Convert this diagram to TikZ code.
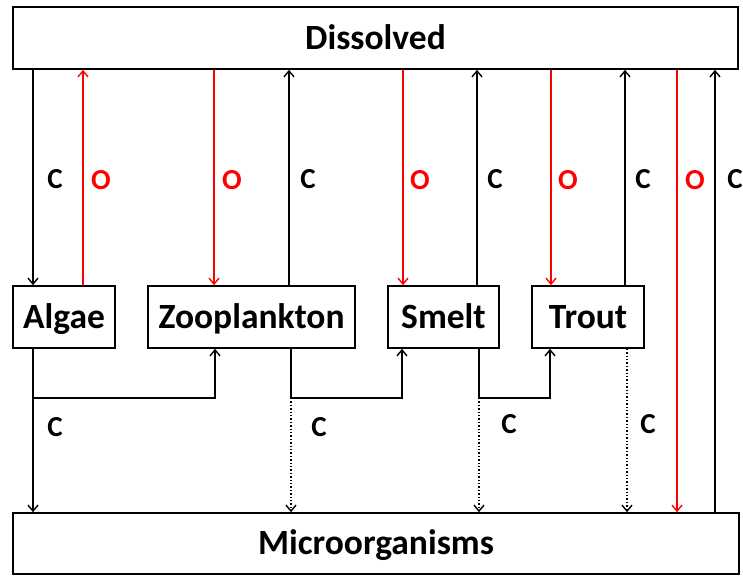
\documentclass[tikz,border=0pt]{standalone}
\usepackage{fontspec}
\setmainfont{Carlito}
\usetikzlibrary{arrows.meta}
\begin{document}
\begin{tikzpicture}[x=1pt,y=-1pt,
  box/.style={draw, line width=1.6pt, inner sep=0pt, text height=22.9pt, text depth=0pt,
    font=\fontsize{35.5}{40}\selectfont\bfseries},
  lab/.style={font=\fontsize{29}{32}\selectfont\bfseries, inner sep=0pt, text height=18.7pt, text depth=0pt},
  olab/.style={lab, text=red},
  carr/.style={line width=1.4pt, -{Straight Barb[length=6pt,width=10pt,line width=1.4pt]}},
  oarr/.style={carr, draw=red},
  darr/.style={carr, dotted, line width=1.3pt},
  cline/.style={line width=1.4pt}]
\useasboundingbox (0,0) rectangle (743,575);
% boxes
\node[box, minimum width=725pt, minimum height=62pt, text depth=-2pt] (diss) at (375.5,38) {Dissolved};
\node[box, minimum width=726pt, minimum height=61pt, text depth=-6pt] (micro) at (376,543.5) {Microorganisms};
\node[box, minimum width=102pt, minimum height=62pt] (alg) at (64,317) {Algae};
\node[box, minimum width=207pt, minimum height=62pt] (zoo) at (251.5,317) {Zooplankton};
\node[box, minimum width=111pt, minimum height=62pt] (smelt) at (443.5,317) {Smelt};
\node[box, minimum width=112pt, minimum height=62pt] (trout) at (588,317) {Trout};
% x positions
\coordinate (x1) at (33,0);
\coordinate (x2) at (83,0);
\coordinate (x3) at (214,0);
\coordinate (x4) at (289,0);
\coordinate (x5) at (403,0);
\coordinate (x6) at (477,0);
\coordinate (x7) at (551,0);
\coordinate (x8) at (625,0);
\coordinate (x9) at (677,0);
\coordinate (x10) at (715,0);
% top exchanges
\draw[carr] (diss.south -| x1) -- (alg.north -| x1);
\draw[oarr] (alg.north -| x2) -- (diss.south -| x2);
\draw[oarr] (diss.south -| x3) -- (zoo.north -| x3);
\draw[carr] (zoo.north -| x4) -- (diss.south -| x4);
\draw[oarr] (diss.south -| x5) -- (smelt.north -| x5);
\draw[carr] (smelt.north -| x6) -- (diss.south -| x6);
\draw[oarr] (diss.south -| x7) -- (trout.north -| x7);
\draw[carr] (trout.north -| x8) -- (diss.south -| x8);
\draw[oarr] (diss.south -| x9) -- (micro.north -| x9);
\draw[carr] (micro.north -| x10) -- (diss.south -| x10);
% top labels
\node[lab] (c1) at (55,179) {C};
\node[olab] (o1) at (101,180) {O};
\node[olab] (o2) at (232,180) {O};
\node[lab] (c2) at (308,179) {C};
\node[olab] (o3) at (420,180) {O};
\node[lab] (c3) at (495,179) {C};
\node[olab] (o4) at (568,180) {O};
\node[lab] (c4) at (643,179) {C};
\node[olab] (o5) at (695,180) {O};
\node[lab] (c5) at (735,179) {C};
% lower flows
\coordinate (b1) at (33,398);
\coordinate (b2) at (291,398);
\coordinate (b3) at (479,398);
\coordinate (t1) at (215,0);
\coordinate (t2) at (402,0);
\coordinate (t3) at (550,0);
\coordinate (t4) at (627,0);
\draw[carr] (alg.south -| b1) -- (micro.north -| b1);
\draw[carr] (b1) -| (zoo.south -| t1);
\draw[cline] (zoo.south -| b2) -- (b2);
\draw[carr] (b2) -| (smelt.south -| t2);
\draw[darr] (b2) -- (micro.north -| b2);
\draw[cline] (smelt.south -| b3) -- (b3);
\draw[carr] (b3) -| (trout.south -| t3);
\draw[darr] (b3) -- (micro.north -| b3);
\draw[darr] (trout.south -| t4) -- (micro.north -| t4);
% lower labels
\node[lab] (c6) at (55,427) {C};
\node[lab] (c7) at (319,427) {C};
\node[lab] (c8) at (509,424) {C};
\node[lab] (c9) at (648,424) {C};
\end{tikzpicture}
\end{document}
